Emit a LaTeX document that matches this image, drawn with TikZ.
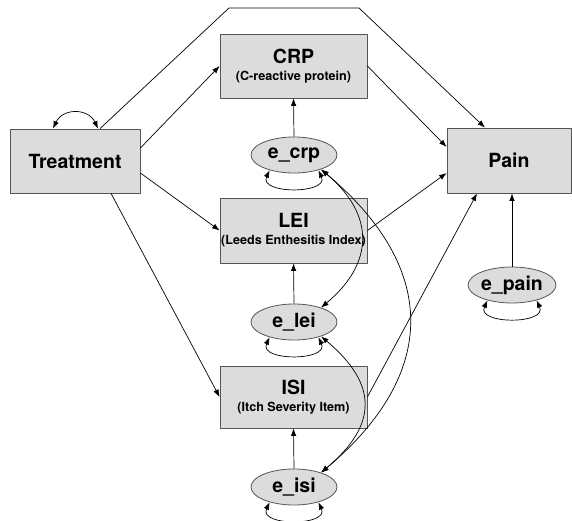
\documentclass[tikz,border=0pt]{standalone}
\usepackage{fontspec}
\setmainfont{TeX Gyre Heros}
\usetikzlibrary{shapes.geometric,arrows.meta}
\definecolor{boxgray}{RGB}{220,220,220}
\definecolor{edgegray}{RGB}{85,85,85}
\newcommand{\subtxt}[1]{{\fontsize{12.6}{14}\selectfont #1}}
\begin{document}
\begin{tikzpicture}[x=1pt, y=-1pt, font=\fontsize{19.5}{22}\selectfont\bfseries, line join=round, >={Latex[length=7.5pt,width=5.5pt]},
  var/.style={draw=edgegray, fill=boxgray, line width=0.8pt, rectangle, minimum width=147pt, minimum height=64pt, inner sep=0pt, align=center},
  err/.style={draw=edgegray, fill=boxgray, line width=0.8pt, ellipse, minimum width=86pt, minimum height=36pt, inner sep=0pt},
  arr/.style={->, line width=0.7pt},
  both/.style={<->, line width=0.7pt}]
\useasboundingbox (0,0) rectangle (572,521);
% observed variables
\node[var, minimum width=130pt] (treat) at (75,161) {Treatment};
\node[var] (crp) at (293.5,66) {CRP\\[-5pt]\subtxt{(C-reactive protein)}};
\node[var, minimum height=65pt] (lei) at (293.5,230.5) {LEI\\[-5pt]\subtxt{(Leeds Enthesitis Index)}};
\node[var, minimum height=62pt] (isi) at (293.5,397) {ISI\\[-5pt]\subtxt{(Itch Severity Item)}};
\node[var, minimum width=124pt, minimum height=65pt] (pain) at (509,160.5) {Pain};
% error terms
\node[err] (ecrp) at (294,155) {e\_crp};
\node[err] (elei) at (294,322) {e\_lei};
\node[err] (eisi) at (294,487) {e\_isi};
\node[err, minimum width=88pt] (epain) at (512,285) {e\_pain};
% paths
\coordinate (tl) at (229,8);
\coordinate (tr) at (359,8);
\draw[arr] ([xshift=25pt]treat.north) -- (tl) -- (tr) -- ([xshift=-24pt]pain.north);
\draw[arr] ([yshift=13pt]treat.east) -- (crp.west);
\draw[arr] ([yshift=-12pt]treat.east) -- (lei.west);
\draw[arr] ([xshift=36pt]treat.south) -- (isi.west);
\draw[arr] (crp.east) -- ([yshift=13.5pt]pain.west);
\draw[arr] (lei.east) -- ([yshift=-12.5pt]pain.west);
\draw[arr] (isi.east) -- ([xshift=-32pt]pain.south);
\foreach \e/\v in {ecrp/crp,elei/lei,eisi/isi}
  \draw[arr] (\e.north) -- (\v.south);
\draw[arr] (epain.north) -- (epain.north |- pain.south);
% variances
\draw[both] ([xshift=-22pt]treat.north) to[out=65,in=115,looseness=1.3] ([xshift=23pt]treat.north);
\foreach \e in {ecrp,elei,eisi,epain}
  \draw[both] (\e.-148) to[out=-115,in=-65,looseness=1.4] (\e.-32);
% covariances
\draw[both] (ecrp.-28) to[out=-40,in=40,looseness=1.3] (elei.28);
\draw[both] (ecrp.-28) to[out=-40,in=40,looseness=1.3] (eisi.28);
\draw[both] (elei.-28) to[out=-40,in=40,looseness=1.4] (eisi.28);
\end{tikzpicture}
\end{document}
